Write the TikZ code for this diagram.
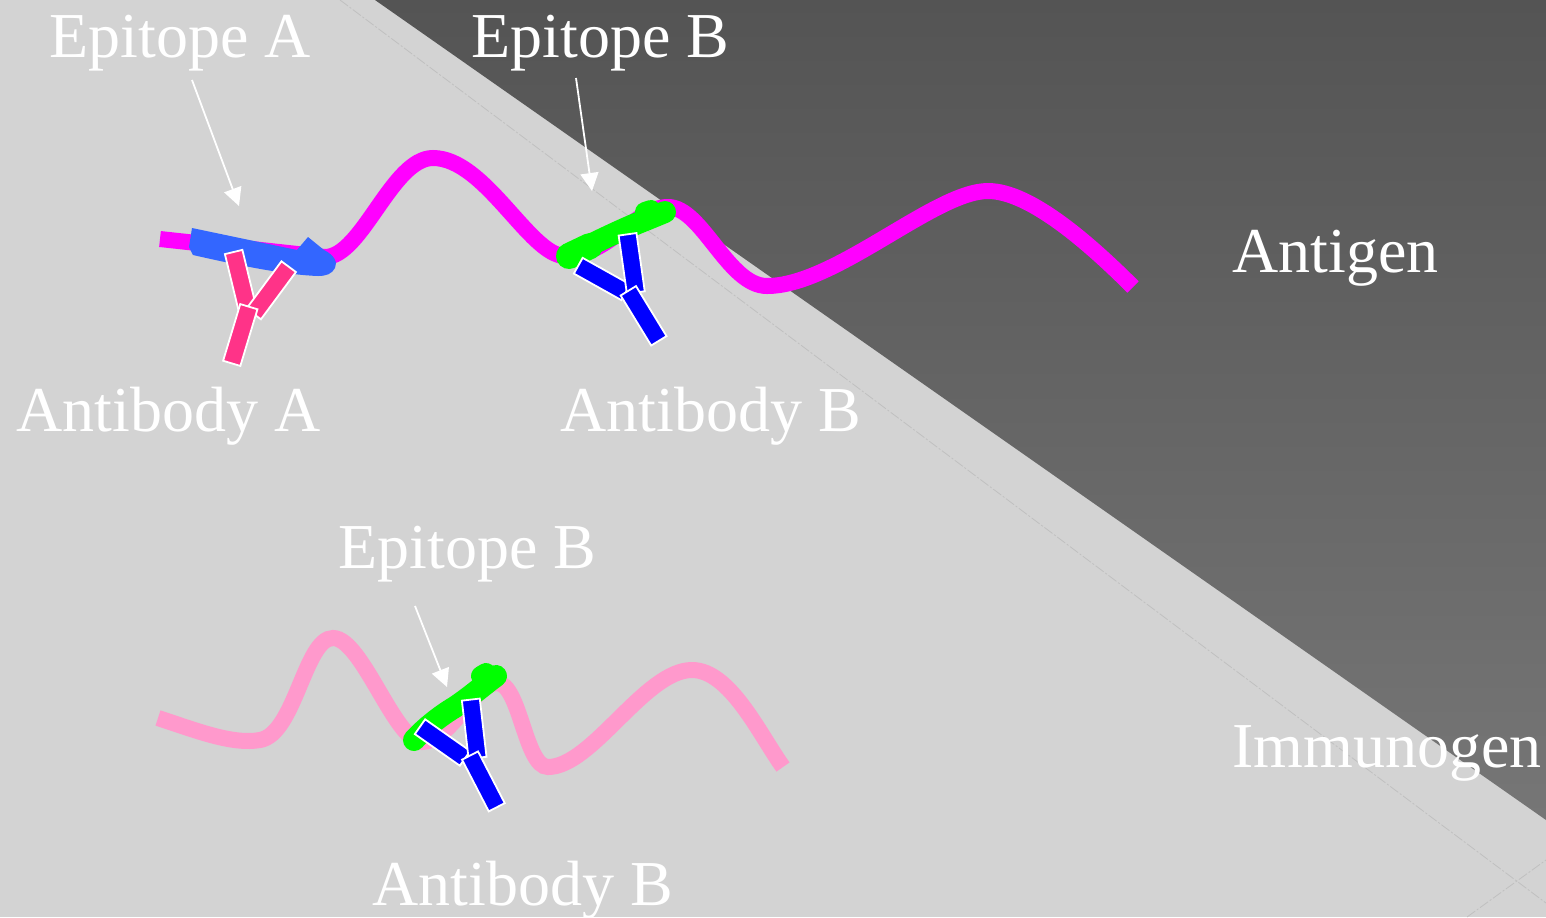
\documentclass[tikz,border=0pt]{standalone}
\usepackage{fontspec}
\setmainfont{Liberation Serif}
\usetikzlibrary{arrows.meta}

\definecolor{panelbg}{RGB}{211,211,211}
\definecolor{darktop}{RGB}{84,84,84}
\definecolor{darkbot}{RGB}{118,118,118}
\definecolor{seam}{RGB}{192,192,192}
\definecolor{antigencol}{RGB}{255,0,255}
\definecolor{immunocol}{RGB}{255,153,204}
\definecolor{epiAcol}{RGB}{51,102,255}
\definecolor{epiBcol}{RGB}{0,255,0}
\definecolor{abAcol}{RGB}{255,51,136}
\definecolor{abBcol}{RGB}{0,0,255}

\begin{document}
\begin{tikzpicture}[
    x=0.5pt, y=-0.5pt,
    lbl/.style={text=white, font=\fontsize{32}{38}\selectfont, inner sep=0pt, anchor=base west},
    strand/.style={line width=8pt, line cap=butt},
    arm/.style={rectangle, draw=white, line width=0.9pt, minimum height=9pt, inner sep=0pt},
    armA/.style={arm, fill=abAcol},
    armB/.style={arm, fill=abBcol},
    epitope/.style={epiBcol, line cap=round},
    seamline/.style={seam, line width=0.4pt, dash pattern=on 5pt off 1pt on 1pt off 1pt},
    pointer/.style={white, line width=0.9pt, -{Triangle[length=9pt, width=9pt]}}
]

% canvas (units are pixels, y grows downwards)
\useasboundingbox (0,0) rectangle (1546,917);
\fill[panelbg] (0,0) rectangle (1546,917);
\shade[top color=darktop, bottom color=darkbot] (375,0) -- (1546,0) -- (1546,820) -- cycle;
\draw[seamline] (340,0) -- (1546,903);
\draw[seamline] (1467,917) -- (1546,860);

% antigen strand
\draw[strand, antigencol] (160,239) -- (325,257)
    .. controls (362,257) and (392,158) .. (433,158)
    .. controls (485,158) and (530,256) .. (565,256)
    .. controls (610,256) and (635,207) .. (668,207)
    .. controls (702,207) and (728,286) .. (767,286)
    .. controls (835,286) and (935,191) .. (988,191)
    .. controls (1030,191) and (1090,244) .. (1133,287);

% epitope A
\fill[epiAcol] (192,228) -- (297,250) -- (308,237) -- (324,250)
    .. controls (334,255) and (338,262) .. (335,268)
    .. controls (332,274) and (326,276) .. (318,276)
    .. controls (290,275) and (250,268) .. (193,255) -- (189,247) -- cycle;

% antibody A
\node[armA, minimum width=28.3pt, rotate=-76.4] (abA-armL) at (240.3,279.5) {};
\node[armA, minimum width=29.4pt, rotate=53.5] (abA-armR) at (271.2,290.3) {};
\node[armA, minimum width=29.6pt, rotate=73.2] (abA-stem) at (240.3,335) {};

% epitope B on the antigen
\draw[epitope, line width=13pt] (569,256) -- (590,246);
\draw[epitope, line width=11pt] (572,254) .. controls (600,240) and (625,228) .. (648,219) -- (665,212);
\draw[epitope, line width=10pt] (645,212) -- (651,210);

% antibody B on the antigen
\node[armB, minimum width=27.2pt, rotate=-29.2] (abB1-armL) at (602,279) {};
\node[armB, minimum width=29.4pt, rotate=-81.9] (abB1-armR) at (631.7,263.4) {};
\node[armB, minimum width=29.3pt, rotate=-58.6] (abB1-stem) at (643.6,315.8) {};

% immunogen strand
\draw[strand, immunocol] (158,718)
    .. controls (195,730) and (232,745) .. (260,740)
    .. controls (295,734) and (305,638) .. (333,638)
    .. controls (362,638) and (395,742) .. (422,742)
    .. controls (450,742) and (475,683) .. (497,683)
    .. controls (520,683) and (525,767) .. (548,767)
    .. controls (592,767) and (645,670) .. (692,670)
    .. controls (730,670) and (760,735) .. (783,767);

% epitope B on the immunogen
\draw[epitope, line width=11pt] (414,740) .. controls (425,728) and (440,716) .. (455,707)
    .. controls (470,697) and (485,684) .. (496,676);
\draw[epitope, line width=10pt] (481,676) -- (486,673);

% antibody B on the immunogen
\node[armB, minimum width=27.5pt, rotate=-35.1] (abB2-armL) at (442.5,742.5) {};
\node[armB, minimum width=29.3pt, rotate=-83.4] (abB2-armR) at (474.2,728.7) {};
\node[armB, minimum width=29.1pt, rotate=-62.7] (abB2-stem) at (483.4,781.4) {};

% labels
\node[lbl] (lblEpiA) at (49,57) {Epitope A};
\node[lbl] (lblEpiB1) at (471,57) {Epitope B};
\node[lbl] (lblAntigen) at (1232,272) {Antigen};
\node[lbl] (lblAbA) at (16,431) {Antibody A};
\node[lbl] (lblAbB1) at (560,431) {Antibody B};
\node[lbl] (lblEpiB2) at (338,568) {Epitope B};
\node[lbl] (lblImmuno) at (1232,767) {Immunogen};
\node[lbl] (lblAbB2) at (372,905) {Antibody B};

% pointers from the epitope labels
\coordinate (epiA-tail) at (192,80);
\coordinate (epiA-head) at (239,206);
\coordinate (epiB1-tail) at (576,78);
\coordinate (epiB1-head) at (592,191);
\coordinate (epiB2-tail) at (415,606);
\coordinate (epiB2-head) at (447,687);
\draw[pointer] (epiA-tail) -- (epiA-head);
\draw[pointer] (epiB1-tail) -- (epiB1-head);
\draw[pointer] (epiB2-tail) -- (epiB2-head);

\end{tikzpicture}
\end{document}
